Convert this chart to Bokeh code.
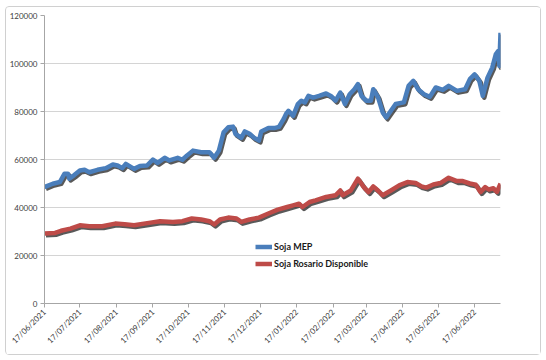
import pandas as pd
from bokeh.plotting import figure
from bokeh.models import (Range1d, FixedTicker, DatetimeTickFormatter, NumeralTickFormatter,
                          Legend, LegendItem)
from bokeh.embed import file_html
from bokeh.resources import INLINE
from math import pi

# ---- data ----
mep_dates = ["2021-06-17","2021-06-24","2021-06-30","2021-07-04","2021-07-07","2021-07-08","2021-07-12","2021-07-17",
             "2021-07-21","2021-07-25","2021-08-01","2021-08-08","2021-08-14","2021-08-18","2021-08-22","2021-08-25",
             "2021-09-01","2021-09-06","2021-09-12","2021-09-17","2021-09-21","2021-09-27","2021-10-01","2021-10-08",
             "2021-10-12","2021-10-16","2021-10-21","2021-10-28","2021-11-04","2021-11-08","2021-11-12","2021-11-16",
             "2021-11-20","2021-11-24","2021-11-26","2021-12-01","2021-12-04","2021-12-08","2021-12-12","2021-12-16",
             "2021-12-18","2021-12-24","2021-12-29","2022-01-02","2022-01-06","2022-01-08","2022-01-10","2022-01-14",
             "2022-01-18","2022-01-21","2022-01-24","2022-01-27","2022-01-31","2022-02-05","2022-02-11","2022-02-15",
             "2022-02-19","2022-02-23","2022-02-27","2022-03-03","2022-03-07","2022-03-10","2022-03-13","2022-03-17",
             "2022-03-21","2022-03-23","2022-03-27","2022-03-31","2022-04-03","2022-04-07","2022-04-11","2022-04-18",
             "2022-04-22","2022-04-26","2022-04-30","2022-05-05","2022-05-10","2022-05-15","2022-05-21","2022-05-26",
             "2022-06-02","2022-06-09","2022-06-13","2022-06-17","2022-06-21","2022-06-24","2022-06-28","2022-07-02",
             "2022-07-05","2022-07-07","2022-07-08","2022-07-09"]
mep_values = [48500,49900,50600,54100,54100,52000,53400,55400,55700,54700,55700,56400,57900,57500,56400,58200,
              56100,57300,57500,60000,58600,60700,59600,60700,59900,61700,63700,63000,63000,60700,63700,71300,
              73400,73700,70700,69000,71700,70700,69000,67900,71700,73100,73100,73600,76900,79000,80300,78200,
              83100,84500,83800,86500,85800,86500,87500,86500,84500,87900,83100,87200,89300,91400,86500,84500,
              84500,89300,86000,79600,77500,80300,83100,83800,90700,92800,89300,87200,86100,90000,89000,90700,
              88600,89300,93500,95500,92800,86500,94100,98300,103800,105200,99000,112800]

ros_dates = ["2021-06-17","2021-06-26","2021-07-01","2021-07-09","2021-07-17","2021-07-25","2021-08-05","2021-08-16",
             "2021-08-24","2021-09-01","2021-09-15","2021-09-23","2021-10-04","2021-10-12","2021-10-20","2021-10-28",
             "2021-11-04","2021-11-08","2021-11-13","2021-11-20","2021-11-27","2021-12-01","2021-12-08","2021-12-16",
             "2021-12-24","2022-01-01","2022-01-09","2022-01-14","2022-01-19","2022-01-22","2022-01-28","2022-02-02",
             "2022-02-11","2022-02-19","2022-02-23","2022-02-25","2022-03-04","2022-03-10","2022-03-15","2022-03-19",
             "2022-03-23","2022-03-27","2022-03-31","2022-04-07","2022-04-14","2022-04-21","2022-04-28","2022-05-03",
             "2022-05-07","2022-05-13","2022-05-19","2022-05-26","2022-06-02","2022-06-07","2022-06-13","2022-06-18",
             "2022-06-22","2022-06-26","2022-06-29","2022-07-03","2022-07-06","2022-07-09"]
ros_values = [29200,29400,30300,31200,32600,32200,32200,33300,33000,32600,33700,34300,34000,34300,35400,35000,
              34300,32900,35000,35800,35400,34000,35000,35800,37500,39100,40200,40900,41600,40200,42300,43000,
              44400,45100,47100,45100,47100,52000,48500,46400,48800,47100,45100,47100,49200,50600,50200,48800,
              48300,49600,50200,52400,51000,51000,50000,49500,46400,48500,47500,48000,46500,50000]

x_tick_dates = ["2021-06-17","2021-07-17","2021-08-17","2021-09-17","2021-10-17","2021-11-17","2021-12-17",
                "2022-01-17","2022-02-17","2022-03-17","2022-04-17","2022-05-17","2022-06-17"]
y_ticks = [0, 20000, 40000, 60000, 80000, 100000, 120000]
series_names = ["Soja MEP", "Soja Rosario Disponible"]

# ---- build ----
mep_x = pd.to_datetime(mep_dates)
ros_x = pd.to_datetime(ros_dates)
x_start = pd.Timestamp(mep_dates[0])
x_end = pd.Timestamp(mep_dates[-1])

p = figure(frame_width=456, frame_height=288, x_axis_type="datetime",
           x_range=Range1d(x_start, x_end), y_range=Range1d(y_ticks[0], y_ticks[-1]),
           output_backend="svg", toolbar_location=None,
           min_border_left=38, min_border_right=40, min_border_top=8, min_border_bottom=51)
p.styles = {"border": "1px solid #d0d0d0", "border-radius": "4px",
            "margin-left": "5px", "margin-top": "6px"}
p.outline_line_color = None
p.background_fill_color = "white"
p.border_fill_color = "white"

shadow_dx = pd.Timedelta(hours=30)
shadow_dy = 750

# shadows
p.line(mep_x + shadow_dx, [v - shadow_dy for v in mep_values], line_color="#222222", line_alpha=0.75,
       line_width=4.5, line_join="round")
p.line(ros_x + shadow_dx, [v - shadow_dy for v in ros_values], line_color="#222222", line_alpha=0.75,
       line_width=4.5, line_join="round")
# main lines
r1 = p.line(mep_x, mep_values, line_color="#4a7ebb", line_width=4.5, line_join="round")
r2 = p.line(ros_x, ros_values, line_color="#be4b48", line_width=4.5, line_join="round")

# axes
p.xaxis.ticker = FixedTicker(ticks=[pd.Timestamp(d).value // 10**6 for d in x_tick_dates])
fmt = "%d/%m/%Y"
p.xaxis.formatter = DatetimeTickFormatter(milliseconds=fmt, seconds=fmt, minsec=fmt, minutes=fmt, hourmin=fmt,
                                          hours=fmt, days=fmt, months=fmt, years=fmt)
p.xaxis.major_label_orientation = pi / 4
p.yaxis.ticker = FixedTicker(ticks=y_ticks)
p.yaxis.formatter = NumeralTickFormatter(format="0")

for ax in (p.xaxis[0], p.yaxis[0]):
    ax.axis_line_color = "#a6a6a6"
    ax.major_tick_line_color = "#a6a6a6"
    ax.major_tick_out = 4
    ax.major_tick_in = 0
    ax.minor_tick_line_color = None
    ax.major_label_text_font = "Lato"
    ax.major_label_text_font_size = "8px"
    ax.major_label_text_color = "#404040"
    ax.major_label_standoff = 3

p.xgrid.grid_line_color = None
p.ygrid.grid_line_color = "#d4d4d4"

legend = Legend(items=[LegendItem(label=series_names[0], renderers=[r1]),
                       LegendItem(label=series_names[1], renderers=[r2])],
                location=(211, 31), orientation="vertical")
legend.border_line_color = None
legend.background_fill_alpha = 0
legend.padding = 0
legend.margin = 0
legend.spacing = 0
legend.glyph_width = 17
legend.glyph_height = 17
legend.label_height = 17
legend.label_standoff = 2
legend.label_text_font = "Lato"
legend.label_text_font_style = "bold"
legend.label_text_font_size = "9px"
legend.label_text_color = "#1a1a1a"
p.add_layout(legend)

open("out.html", "w").write(file_html(p, INLINE))
